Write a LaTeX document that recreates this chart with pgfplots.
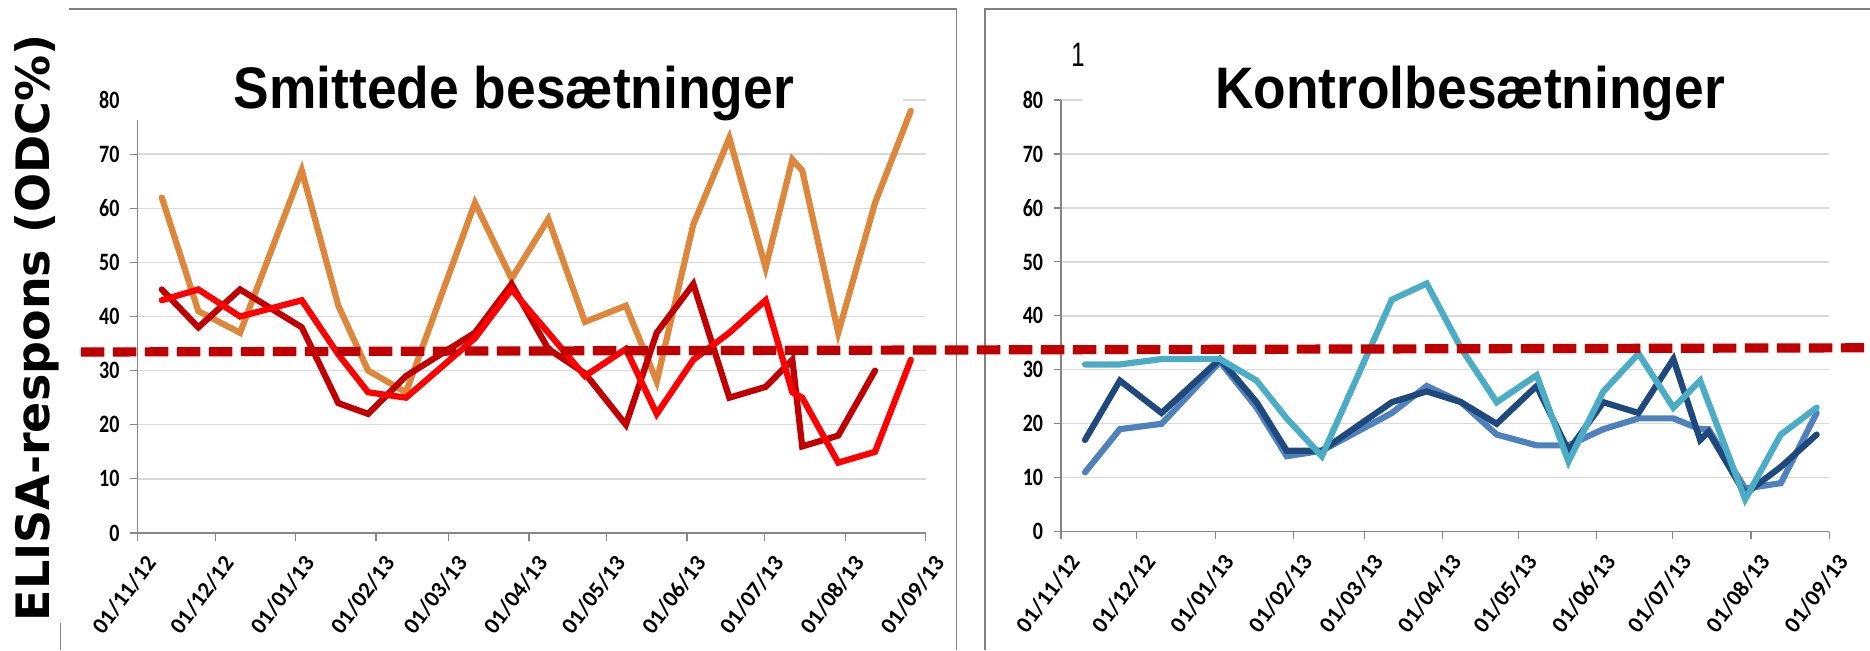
\documentclass[border=0pt]{standalone}
\usepackage{pgfplots}
\pgfplotsset{compat=1.18}
\usepackage{fontspec}
\setmainfont{Carlito}
\newfontfamily\arialfont{Liberation Sans}
\newfontfamily\dejavu{DejaVu Sans}
\definecolor{orangeC}{RGB}{221,135,60}
\definecolor{darkredC}{RGB}{192,0,0}
\definecolor{redC}{RGB}{255,0,0}
\definecolor{navyC}{RGB}{31,73,125}
\definecolor{medblueC}{RGB}{79,129,189}
\definecolor{cyanC}{RGB}{75,172,198}
\definecolor{gridgray}{RGB}{217,217,217}
\definecolor{axgray}{RGB}{134,134,134}
\definecolor{bordergray}{RGB}{128,128,128}
\pgfplotsset{
  panel/.style={
    scale only axis,
    xmin=0, xmax=304, ymin=0, ymax=80,
    axis x line*=bottom, axis y line*=left,
    axis line style={draw=axgray, line width=0.6pt},
    tick style={draw=axgray, line width=0.6pt},
    tick align=outside,
    major tick length=3.75pt,
    ytick={0,10,...,80},
    ymajorgrids=true,
    grid style={draw=gridgray, line width=0.65pt},
    xtick={0,30,61,92,120,151,181,212,242,273,304},
    xticklabels={01/11/12,01/12/12,01/01/13,01/02/13,01/03/13,01/04/13,01/05/13,01/06/13,01/07/13,01/08/13,01/09/13},
    /pgf/number format/assume math mode=true,
    yticklabel style={font=\bfseries\fontsize{12.5}{12.5}\selectfont, xscale=0.8, anchor=east, xshift=-3pt},
    xticklabel style={font=\bfseries\fontsize{11.5}{11.5}\selectfont, xshift=9pt, yshift=-6.5pt, rotate=53, anchor=east},
    clip=false,
  },
  ser/.style={line width=3.1pt, line cap=round},
}
\begin{document}
\begin{tikzpicture}[x=1pt,y=1pt]
\useasboundingbox (0,0) rectangle (935,325);

% borders
\draw[draw=bordergray, line width=0.65pt] (34.5,320.5) -- (478.35,320.5) -- (478.35,0);
\draw[draw=bordergray, line width=0.65pt] (492.5,0) -- (492.5,320.5) -- (935,320.5);
\draw[draw=bordergray, line width=0.65pt] (30.35,13.5) -- (30.35,0);

\begin{axis}[panel, at={(68.7pt,58.5pt)}, anchor=south west, width=394.1pt, height=216.5pt]
\addplot[ser, draw=orangeC] coordinates {
(9.4,62) (23.5,41) (39.6,37) (63.4,67) (77.5,42) (89,30) (103.6,26) (130.2,61) (144.3,47) (158.5,58) (172.6,39) (188.4,42) (200.3,28) (214.4,57) (228.3,73) (242.3,49) (252.6,69) (256.4,67) (270.3,37) (284.5,61) (298.3,78)};
\addplot[ser, draw=darkredC] coordinates {
(9.4,45) (23.5,38) (39.6,45) (63.4,38) (77.5,24) (89,22) (103.6,29) (130.2,37) (144.3,46) (158.5,34) (172.6,29.5) (188.4,20) (200.3,37) (214.4,46) (228.3,25) (242.3,27) (252.6,32) (256.4,16) (270.3,18) (284.5,30)};
\addplot[ser, draw=redC] coordinates {
(9.4,43) (23.5,45) (39.6,40) (63.4,43) (77.5,33) (89,26) (103.6,25) (130.2,36) (144.3,45) (158.5,37) (172.6,29) (188.4,34) (200.3,22) (214.4,32) (228.3,37) (242.3,43) (252.6,26) (256.4,25) (270.3,13) (284.5,15) (298.3,32)};
\end{axis}

\begin{axis}[panel, at={(530.5pt,59.15pt)}, anchor=south west, width=384.15pt, height=215.85pt]
\addplot[ser, draw=medblueC] coordinates {
(9.5,11) (23.3,19) (39.8,20) (62.9,31.5) (77.4,23) (89.3,14) (103.2,15) (130.9,22) (144.7,27) (158.3,24) (172.4,18) (188.2,16) (200.8,16) (214.6,19) (228.5,21) (242.3,21) (252.9,19) (256.2,19) (270.7,8) (284.8,9) (299,22)};
\addplot[ser, draw=navyC] coordinates {
(9.5,17) (23.3,28) (39.8,22) (62.9,32) (77.4,24) (89.3,15) (103.2,15) (130.9,24) (144.7,26) (158.3,24) (172.4,20) (188.2,27) (200.8,15) (214.6,24) (228.5,22) (242.3,32) (252.9,17) (256.2,18.5) (270.7,7) (284.8,12) (299,18)};
\addplot[ser, draw=cyanC] coordinates {
(9.5,31) (23.3,31) (39.8,32) (62.9,32) (77.4,28) (89.3,21) (103.2,14) (130.9,43) (144.7,46) (158.3,34) (172.4,24) (188.2,29) (200.8,13) (214.6,26) (228.5,33) (242.3,23) (252.9,28) (270.7,6) (284.8,18) (299,23)};
% threshold line spanning both panels
\addplot[draw=darkredC, line width=4.6pt, dash pattern=on 11.75pt off 4.25pt] coordinates {(-387.8,33.3) (317.8,34.08)};
\end{axis}

% title boxes and titles
\fill[white] (62.5,265) rectangle (451.5,302);
\fill[white] (541,274.25) rectangle (922.5,302);
\node[anchor=base, xscale=0.91, font=\arialfont\bfseries\fontsize{29.3}{30}\selectfont] at (257,271) {Smittede besætninger};
\node[anchor=base, xscale=0.91, font=\arialfont\bfseries\fontsize{29.3}{30}\selectfont] at (735,271) {Kontrolbesætninger};
\node[xscale=0.7, font=\arialfont\fontsize{17}{17}\selectfont] at (539,297.5) {1};

% y label
\node[rotate=90, font=\dejavu\bfseries\fontsize{23}{23}\selectfont] at (18.5,161) {ELISA-respons (ODC\%)};
\end{tikzpicture}
\end{document}
